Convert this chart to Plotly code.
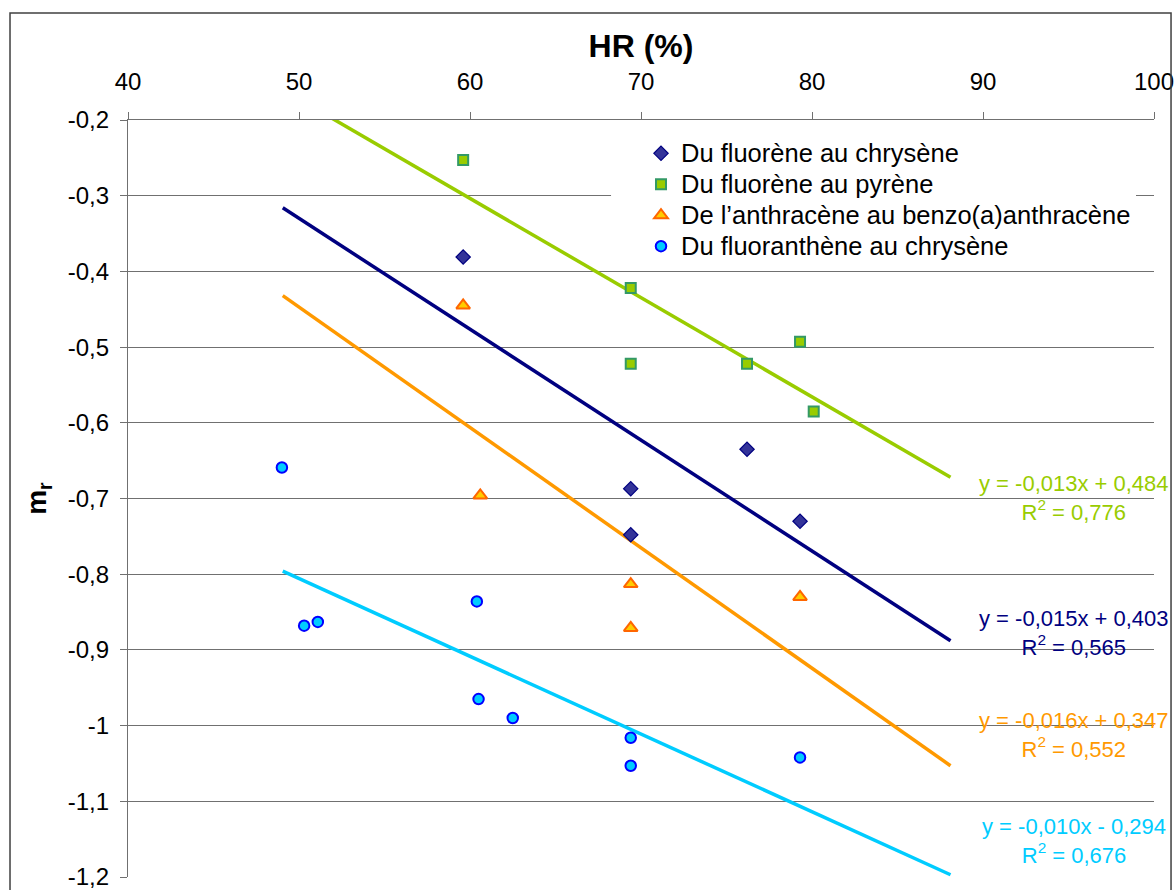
import plotly.graph_objects as go

# --- data ---
hr_fc = [59.6, 69.4, 69.4, 76.2, 79.3]
mr_fc = [-0.381, -0.687, -0.748, -0.635, -0.730]

hr_fp = [59.6, 69.4, 69.4, 76.2, 79.3, 80.1]
mr_fp = [-0.253, -0.422, -0.522, -0.522, -0.493, -0.585]

hr_ab = [59.6, 60.6, 69.4, 69.4, 79.3]
mr_ab = [-0.445, -0.696, -0.813, -0.871, -0.830]

hr_fa = [49.0, 50.3, 51.1, 60.4, 60.5, 62.5, 69.4, 69.4, 79.3]
mr_fa = [-0.659, -0.868, -0.863, -0.836, -0.965, -0.990, -1.016, -1.053, -1.042]

series_names = [
    "Du fluorène au chrysène",
    "Du fluorène au pyrène",
    "De l’anthracène au benzo(a)anthracène",
    "Du fluoranthène au chrysène",
]

# trend lines (linear fits drawn in the chart), end points
trend_x = [49.05, 88.1]
trend_fc = [-0.316, -0.888]
trend_fp = [-0.160, -0.672]
trend_ab = [-0.432, -1.053]
trend_fa = [-0.796, -1.197]

eq_text = [
    "y = -0,015x + 0,403",
    "y = -0,013x + 0,484",
    "y = -0,016x + 0,347",
    "y = -0,010x - 0,294",
]
r2_text = ["0,565", "0,776", "0,552", "0,676"]

x_ticks = [40, 50, 60, 70, 80, 90, 100]
y_ticks = [-1.2, -1.1, -1.0, -0.9, -0.8, -0.7, -0.6, -0.5, -0.4, -0.3, -0.2]

FONT = "Liberation Sans, Arial, sans-serif"
C_NAVY, C_GREEN, C_ORANGE, C_CYAN = "#000080", "#99CC00", "#FF9900", "#00CCFF"


def legend_label(s):
    # bigger text than the legend font, keeps the rows tight like the original
    return f'<span style="font-size:25.5px">{s}</span>'


fig = go.Figure()

# trend lines first so the markers sit on top
for ys, col in [(trend_fc, C_NAVY), (trend_fp, C_GREEN), (trend_ab, C_ORANGE), (trend_fa, C_CYAN)]:
    fig.add_trace(go.Scatter(x=trend_x, y=ys, mode="lines", showlegend=False,
                             line=dict(color=col, width=3.5), hoverinfo="skip"))

fig.add_trace(go.Scatter(x=hr_fc, y=mr_fc, mode="markers", name=legend_label(series_names[0]),
                         marker=dict(symbol="diamond", size=11, color="#333399",
                                     line=dict(color="#000080", width=1.2))))
fig.add_trace(go.Scatter(x=hr_fp, y=mr_fp, mode="markers", name=legend_label(series_names[1]),
                         marker=dict(symbol="square", size=10, color="#99CC00",
                                     line=dict(color="#339966", width=2))))
fig.add_trace(go.Scatter(x=hr_ab, y=mr_ab, mode="markers", name=legend_label(series_names[2]),
                         marker=dict(symbol="triangle-up", size=12, color="#FFCC00",
                                     line=dict(color="#FF6600", width=2))))
fig.add_trace(go.Scatter(x=hr_fa, y=mr_fa, mode="markers", name=legend_label(series_names[3]),
                         marker=dict(symbol="circle", size=10.5, color="#00CCFF",
                                     line=dict(color="#0000FF", width=2))))

# equation labels on the right
eq_pos = [(95.3, -0.878), (95.3, -0.699), (95.3, -1.012), (95.3, -1.1525)]
eq_cols = [C_NAVY, C_GREEN, C_ORANGE, C_CYAN]
for (ex, ey), t, r2, col in zip(eq_pos, eq_text, r2_text, eq_cols):
    fig.add_annotation(x=ex, y=ey, xref="x", yref="y", showarrow=False,
                       text=f"{t}<br>R<sup>2</sup> = {r2}", align="center",
                       font=dict(family=FONT, size=22, color=col))

# outer chart frame + white patch hiding the gridline left of the legend
fig.add_shape(type="rect", xref="paper", yref="paper", x0=-0.115, x1=1.0166,
              y0=-0.05, y1=1.1413, line=dict(color="#404040", width=1.5), layer="above")
fig.add_shape(type="rect", xref="paper", yref="y", x0=0.4708, x1=0.53,
              y0=-0.307, y1=-0.293, fillcolor="white", line=dict(width=0), layer="above")

fig.update_layout(
    width=1174, height=890,
    margin=dict(l=128, r=20, t=120, b=13, autoexpand=False),
    paper_bgcolor="white", plot_bgcolor="white",
    font=dict(family=FONT, size=24, color="black"),
    showlegend=True,
    legend=dict(x=0.5, y=0.983, xanchor="left", yanchor="top",
                bgcolor="white", borderwidth=0, tracegroupgap=0,
                font=dict(family=FONT, size=21.5, color="black")),
    xaxis=dict(range=[40, 100], side="top", tickvals=x_ticks,
               ticktext=[str(v) for v in x_ticks],
               showgrid=False, zeroline=False, showline=True,
               linecolor="#707070", linewidth=1.2,
               ticks="outside", ticklen=7, tickcolor="#707070",
               ticklabelstandoff=12, ticklabeloverflow="allow", automargin=False,
               title=dict(text="<b>HR (%)</b>", font=dict(size=32), standoff=1)),
    yaxis=dict(range=[-1.2, -0.2], tickvals=y_ticks,
               ticktext=[f"{v:g}".replace(".", ",") for v in y_ticks],
               showgrid=True, gridcolor="#707070", gridwidth=1.2,
               zeroline=False, showline=True, linecolor="#707070", linewidth=1.2,
               ticks="outside", ticklen=7, tickcolor="#707070",
               ticklabelstandoff=6, ticklabeloverflow="allow", automargin=False,
               title=dict(text="<b>m<sub>r</sub></b>", font=dict(size=28), standoff=12)),
)

# drop the page's default body margin so the figure fills the window exactly
fig.write_html("out.html", config={"displayModeBar": False},
               post_script="document.body.style.margin='0';")
